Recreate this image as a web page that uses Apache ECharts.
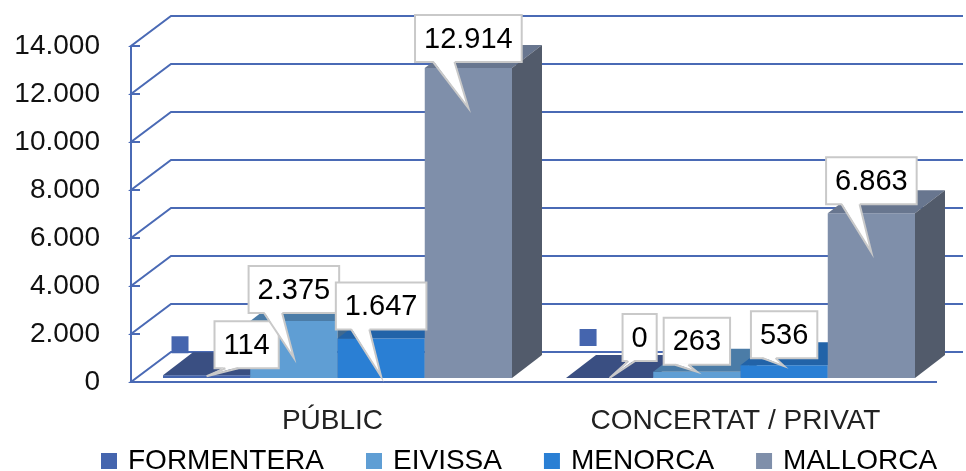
<!DOCTYPE html>
<html>
<head>
<meta charset="utf-8">
<script src="https://cdn.jsdelivr.net/npm/echarts@6/dist/echarts.min.js"></script>
<style>
  html, body { margin: 0; padding: 0; background: #fff; }
  #chart { width: 966px; height: 471px; }
</style>
</head>
<body>
<div id="chart"></div>
<script>
// data
var categories = ["PÚBLIC", "CONCERTAT / PRIVAT"];
var islands = ["FORMENTERA", "EIVISSA", "MENORCA", "MALLORCA"];
var formentera = [114, 0];
var eivissa = [2375, 263];
var menorca = [1647, 536];
var mallorca = [12914, 6863];
var yTicks = [0, 2000, 4000, 6000, 8000, 10000, 12000, 14000];

// styles
var frontColors = ["#4565AE", "#5F9ED4", "#2A7FD4", "#7F8FAA"];
var topColors = ["#3A4F82", "#4B7CA7", "#2263A8", "#68768F"];
var sideColors = ["#33466F", "#40698F", "#1D5590", "#525B6B"];
var frameColor = "#4A6AB5";
var FONT = '"Liberation Sans", Arial, sans-serif';

// 3d geometry (px)
var BAR_START = 32, BAR_W = 87.25, LIFT = 4, DX = 30, DY = -23;
var WALL_DX = 40, WALL_DY = -30, WALL_EXTRA = 26;

// callout placement, [category][island]
var calloutTipDy = [[1, 37, 38, 40], [0, 0, 1, 39]];
var calloutDx = [[40, 0, 0, 0], [30, 0, 0, 0]];
var calloutGap = [[8, 45, 47, 46], [17, 7, 8, 48]];

var seriesValues = [formentera, eivissa, menorca, mallorca];

function fmt(v) {
  return String(v).replace(/\B(?=(\d{3})+(?!\d))/g, ".");
}

var measureCtx = document.createElement("canvas").getContext("2d");
function textWidth(s, font) {
  measureCtx.font = font;
  return measureCtx.measureText(s).width;
}

function barRenderer(k) {
  return function (params, api) {
    var cat = api.value(0), val = api.value(1);
    var base = api.coord([cat, 0]);
    var top = api.coord([cat, val]);
    var band = api.size([1, 0])[0];
    var x0 = base[0] - band / 2 + BAR_START + k * BAR_W;
    var x1 = x0 + BAR_W;
    var yb = base[1] - LIFT, yt = top[1] - LIFT;
    return {
      type: "group",
      children: [
        { type: "polygon", shape: { points: [[x0, yb], [x1, yb], [x1, yt], [x0, yt]] },
          style: { fill: frontColors[k] } },
        { type: "polygon", shape: { points: [[x0, yt], [x1, yt], [x1 + DX, yt + DY], [x0 + DX, yt + DY]] },
          style: { fill: topColors[k] } },
        { type: "polygon", shape: { points: [[x1, yb], [x1 + DX, yb + DY], [x1 + DX, yt + DY], [x1, yt]] },
          style: { fill: sideColors[k] } }
      ]
    };
  };
}

function frameRenderer(params, api) {
  var v = api.value(1);
  var y = api.coord([0, v])[1];
  var cs = params.coordSys;
  var left = cs.x, right = cs.x + cs.width;
  var lineStyle = { stroke: frameColor, lineWidth: 2, fill: null };
  var children = [
    { type: "polyline", shape: { points: [[left + 9, y], [left, y], [left + WALL_DX, y + WALL_DY], [right + WALL_EXTRA, y + WALL_DY]] },
      style: lineStyle }
  ];
  if (v === 0) {
    var yTop = api.coord([0, yTicks[yTicks.length - 1]])[1];
    children.push({ type: "polyline", shape: { points: [[left, y], [right, y]] }, style: lineStyle });
    children.push({ type: "polyline", shape: { points: [[left, yTop], [left, y]] }, style: lineStyle });
  }
  return { type: "group", children: children };
}

function calloutRenderer(params, api) {
  var c = api.value(0), v = api.value(1), k = api.value(2);
  var base = api.coord([c, 0]);
  var top = api.coord([c, v]);
  var band = api.size([1, 0])[0];
  var bx = base[0] - band / 2 + BAR_START + k * BAR_W + BAR_W / 2;
  var tip = [bx, top[1] - LIFT + calloutTipDy[c][k]];
  var font = '29px ' + FONT;
  var text = fmt(v);
  var w = textWidth(text, font) + 18, h = 47;
  var cx = tip[0] + calloutDx[c][k];
  var bottom = tip[1] - calloutGap[c][k];
  var left = cx - w / 2, topY = bottom - h;
  var b1 = left + 0.17 * w, b2 = left + 0.37 * w;
  var children = [
    { type: "rect", shape: { x: left, y: topY, width: w, height: h },
      style: { fill: "#fff", stroke: "#C9C9C9", lineWidth: 2 } },
    { type: "polygon", shape: { points: [[b1, bottom - 1.5], tip, [b2, bottom - 1.5]] },
      style: { fill: "#fff" } },
    { type: "polyline", shape: { points: [[b1, bottom], tip, [b2, bottom]] },
      style: { stroke: "#C9C9C9", lineWidth: 2, fill: null } },
    { type: "text", style: { text: text, x: cx, y: topY + h / 2 + 1, align: "center", verticalAlign: "middle",
      font: font, fill: "#000" } }
  ];
  if (k === 0) {
    children.push({ type: "rect", shape: { x: left - 43, y: topY + h / 2 - 8.5, width: 17, height: 17 },
      style: { fill: frontColors[0] } });
  }
  return { type: "group", children: children };
}

var chart = echarts.init(document.getElementById("chart"), null, { renderer: "canvas" });

var series = [
  {
    name: "frame",
    type: "custom",
    renderItem: frameRenderer,
    data: yTicks.map(function (v) { return [0, v]; }),
    silent: true,
    z: 1
  }
];

islands.forEach(function (name, k) {
  series.push({
    name: name,
    type: "custom",
    renderItem: barRenderer(k),
    itemStyle: { color: frontColors[k] },
    data: seriesValues[k].map(function (v, c) { return [c, v]; }),
    encode: { x: 0, y: 1 },
    z: 2
  });
});

var calloutData = [];
categories.forEach(function (cat, c) {
  seriesValues.forEach(function (vals, k) {
    calloutData.push([c, vals[c], k]);
  });
});

series.push({
  name: "labels",
  type: "custom",
  renderItem: calloutRenderer,
  data: calloutData,
  encode: { x: 0, y: 1 },
  silent: true,
  z: 3
});

chart.setOption({
  animation: false,
  grid: { left: 131, right: 29, top: 46, bottom: 89 },
  legend: {
    data: islands,
    left: 96,
    top: 442,
    icon: "rect",
    itemWidth: 16,
    itemHeight: 16,
    itemGap: 42,
    textStyle: { fontFamily: FONT, fontSize: 28, color: "#000", padding: [0, 0, 0, 6] }
  },
  xAxis: {
    type: "category",
    data: categories,
    axisLine: { show: false },
    axisTick: { show: false },
    axisLabel: { fontFamily: FONT, fontSize: 28, color: "#222", margin: 25 }
  },
  yAxis: {
    type: "value",
    min: 0,
    max: 14000,
    interval: 2000,
    axisLine: { show: false },
    axisTick: { show: false },
    splitLine: { show: false },
    axisLabel: { fontFamily: FONT, fontSize: 28, color: "#111", margin: 31, formatter: fmt }
  },
  series: series
});
</script>
</body>
</html>
